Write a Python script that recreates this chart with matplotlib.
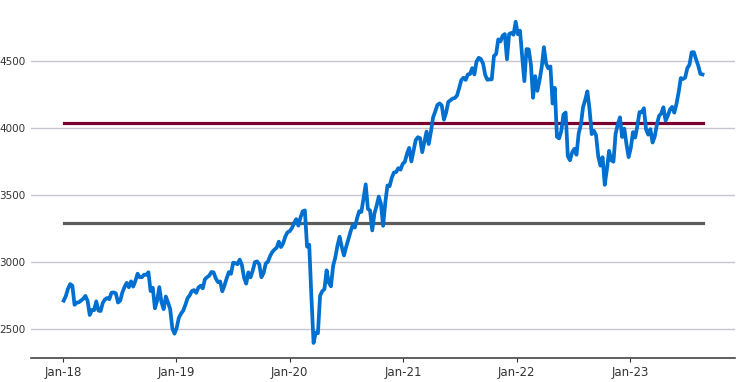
import numpy as np
import pandas as pd
import matplotlib
matplotlib.use("Agg")
import matplotlib.pyplot as plt
import matplotlib.dates as mdates

# weekly (Wednesday) index levels
v2018 = [2713, 2748, 2802, 2837, 2824, 2682, 2698, 2701, 2714, 2727, 2749, 2711, 2606,
         2644, 2642, 2708, 2639, 2636, 2697, 2722, 2733, 2724, 2772, 2775, 2767, 2699,
         2713, 2774, 2815, 2846, 2813, 2857, 2818, 2861, 2914, 2888, 2888, 2907, 2905,
         2925, 2785, 2809, 2656, 2712, 2814, 2702, 2650, 2744, 2700, 2651, 2507, 2467]
v2019 = [2510, 2585, 2616, 2639, 2681, 2731, 2753, 2785, 2792, 2771, 2811, 2824, 2805,
         2873, 2888, 2900, 2927, 2924, 2879, 2851, 2856, 2783, 2826, 2879, 2926, 2913,
         2996, 2993, 2985, 3019, 2980, 2884, 2840, 2924, 2887, 2937, 3000, 3006, 2984,
         2888, 2919, 2990, 3004, 3046, 3076, 3094, 3108, 3153, 3113, 3141, 3191, 3223]
v2020 = [3231, 3253, 3289, 3321, 3273, 3334, 3379, 3386, 3116, 3130, 2741, 2398, 2475,
         2470, 2750, 2784, 2799, 2939, 2848, 2820, 2972, 3036, 3123, 3190, 3113, 3050,
         3115, 3169, 3227, 3276, 3258, 3327, 3380, 3375, 3479, 3580, 3398, 3385, 3237,
         3363, 3419, 3489, 3435, 3271, 3443, 3572, 3567, 3630, 3669, 3672, 3701, 3690, 3733]
v2021 = [3748, 3810, 3852, 3751, 3831, 3910, 3932, 3925, 3820, 3898, 3974, 3881, 3973,
         4080, 4124, 4173, 4184, 4168, 4063, 4116, 4195, 4208, 4220, 4224, 4242, 4298,
         4358, 4375, 4359, 4400, 4403, 4447, 4400, 4496, 4524, 4514, 4481, 4395, 4360,
         4363, 4364, 4537, 4552, 4661, 4646, 4689, 4701, 4513, 4701, 4710, 4696, 4793]
v2022 = [4700, 4726, 4533, 4350, 4589, 4587, 4475, 4226, 4387, 4278, 4357, 4456, 4603,
         4481, 4446, 4459, 4183, 4300, 3935, 3923, 3979, 4101, 4116, 3790, 3760, 3819,
         3845, 3801, 3960, 4024, 4155, 4210, 4274, 4141, 3955, 3980, 3946, 3789, 3720,
         3783, 3577, 3695, 3830, 3760, 3749, 3959, 4027, 4080, 3933, 3996, 3879, 3783]
v2023 = [3853, 3970, 3929, 4017, 4119, 4117, 4148, 3991, 3951, 3992, 3892, 3937, 4027,
         4091, 4109, 4155, 4056, 4091, 4138, 4158, 4115, 4180, 4267, 4373, 4366, 4376,
         4447, 4473, 4565, 4566, 4513, 4467, 4404, 4400]

upper_level = 4037
lower_level = 3293

values = v2018 + v2019 + v2020 + v2021 + v2022 + v2023
dates = pd.date_range("2018-01-03", periods=len(values), freq="W-WED")

fig = plt.figure(figsize=(7.4, 3.82), dpi=100)
ax = fig.add_axes([0.042, 0.063, 0.951, 0.937])

ax.plot(dates, values, color="#0070d0", lw=2.7, zorder=3)
ax.plot([dates[0], dates[-1]], [upper_level, upper_level], color="#7a0032", lw=2.3, zorder=2)
ax.plot([dates[0], dates[-1]], [lower_level, lower_level], color="#5c5c5c", lw=2.3, zorder=2)

ax.set_ylim(2286, 4955)
ax.set_xlim(pd.Timestamp("2017-09-20"), pd.Timestamp("2023-12-05"))
ax.set_yticks([2500, 3000, 3500, 4000, 4500])
ax.xaxis.set_major_locator(mdates.YearLocator())
ax.xaxis.set_major_formatter(mdates.DateFormatter("%b-%y"))

ax.grid(axis="y", color="#c9c4cf", lw=1)
ax.set_axisbelow(True)
for s in ["left", "top", "right"]:
    ax.spines[s].set_visible(False)
ax.spines["bottom"].set_color("#444444")
ax.spines["bottom"].set_linewidth(1.2)
ax.tick_params(axis="y", length=0, labelsize=7.5, colors="#333333", pad=4)
ax.tick_params(axis="x", length=3, labelsize=8.5, colors="#333333", pad=3)

plt.savefig("out.png", dpi=100)
